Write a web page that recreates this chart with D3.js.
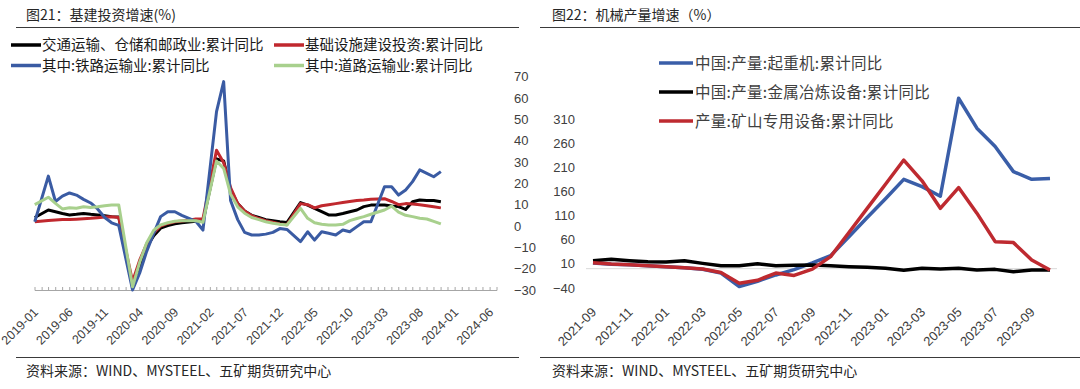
<!DOCTYPE html>
<html><head><meta charset="utf-8">
<script src="https://cdn.jsdelivr.net/npm/d3@7"></script>
<style>body{margin:0;background:#fff}svg{display:block}</style>
</head><body>
<svg id="c" width="1080" height="389"></svg>
<script>
// ---------- Left chart data (cumulative YoY, %) ----------
const leftTitle = "图21：基建投资增速(%)";
const leftMonths = ["2018-12",
 "2019-02","2019-03","2019-04","2019-05","2019-06","2019-07","2019-08","2019-09","2019-10","2019-11","2019-12",
 "2020-02","2020-03","2020-04","2020-05","2020-06","2020-07","2020-08","2020-09","2020-10","2020-11","2020-12",
 "2021-02","2021-03","2021-04","2021-05","2021-06","2021-07","2021-08","2021-09","2021-10","2021-11","2021-12",
 "2022-02","2022-03","2022-04","2022-05","2022-06","2022-07","2022-08","2022-09","2022-10","2022-11","2022-12",
 "2023-02","2023-03","2023-04","2023-05","2023-06","2023-07","2023-08","2023-09","2023-10"];
const transport = [4,
 7.5,6.7,5.9,5.2,5.5,5.9,5.5,5.2,4.8,4.4,4.2,
 -28,-18.5,-10,-4.5,-1,0.2,1,1.5,1.9,2.2,2.2,
 31.5,30.5,17,10.5,7,5,4,3,2.5,2,1.6,
 11,9.8,8.3,6.7,5.2,5.2,5.9,6.7,7.5,9.1,9.8,
 9.8,9.4,9.1,7.8,11.4,12.2,12,12,11.4];
const infra = [2,
 2.6,2.8,3.0,3.0,3.2,3.4,3.6,3.9,4.2,4.3,4.0,
 -26,-16,-8.5,-3.3,0,1.2,2,2.4,2.7,3.3,3.4,
 35.5,29.7,18,10.5,7,4.8,3.5,2.5,1.8,1.0,0.6,
 10.5,10,8.5,9.5,10,10.5,11,11.5,12,12.2,12.5,
 12.8,11.5,10,10.5,10.3,10,9.5,9,8.5];
const rail = [2,
 23.4,11.5,14,15.5,14.5,12.5,10.8,8,4,1.5,0.3,
 -30,-22,-12,-3.5,4.4,6.7,6.7,5,3.6,2.2,-1.9,
 53.6,67.7,12,3,-3,-4.2,-4.2,-3.8,-3,-1.2,-1.6,
 -7.3,-2.7,-6.6,-2.7,-3.4,-4.2,-1.9,-2.7,-0.3,2,2,
 18.4,18.4,14.5,16.9,20.8,26.3,24.7,23.1,25.5];
const road = [10,
 13.5,10.6,8,8.6,8.3,9,8.7,9,9.5,9.8,9.8,
 -28.5,-17,-8,-2,0.5,1.5,2.2,2.5,2.5,2.5,1.8,
 30.5,27,15,9,6,4,3,2,1.3,0.8,0.5,
 8.3,3.6,1.5,0.8,0.5,0.5,0.8,2.5,3.5,4.4,5.5,
 7.5,9.3,6.5,5,4.4,3.6,3.3,2.2,1];
const leftSeriesNames = ["交通运输、仓储和邮政业:累计同比","基础设施建设投资:累计同比","其中:铁路运输业:累计同比","其中:道路运输业:累计同比"];
const leftColors = ["#000000","#c0282e","#3a5ba3","#a8d08d"];
const leftXLabels = ["2019-01","2019-06","2019-11","2020-04","2020-09","2021-02","2021-07","2021-12","2022-05","2022-10","2023-03","2023-08","2024-01","2024-06"];
const leftYTicks = [-30,-20,-10,0,10,20,30,40,50,60,70];

// ---------- Right chart data ----------
const rightTitle = "图22：机械产量增速（%）";
const rightMonths = ["2021-09","2021-10","2021-11","2021-12","2022-01","2022-02","2022-03","2022-04","2022-05","2022-06","2022-07","2022-08","2022-09","2022-10","2022-11","2022-12","2023-01","2023-02","2023-03","2023-04","2023-05","2023-06","2023-07","2023-08","2023-09","2023-10"];
const crane  = [12,9,8,6,4,2,-1,-9,-37,-26,-13,-2,12,27,66,106,145,185,170,150,353,291,253,201,185,187];
const metal  = [16.6,19.3,16.6,14.5,13.8,16.6,11,6.2,6.2,10,6.2,6.9,7.6,6.2,4.1,2.8,0.7,-3.4,0.7,-0.7,0.7,-2.8,-1.4,-6.2,-2.8,-2.8];
const mining = [12.4,9.7,8.3,6.2,4.1,2.1,-0.7,-8,-30,-24,-9,-14,-1,25,75,125,175,225,182,125,168,115,56,54,18,-2.8];
const rightSeriesNames = ["中国:产量:起重机:累计同比","中国:产量:金属冶炼设备:累计同比","产量:矿山专用设备:累计同比"];
const rightColors = ["#3a5ea8","#000000","#be2a30"];
const rightXLabels = ["2021-09","2021-11","2022-01","2022-03","2022-05","2022-07","2022-09","2022-11","2023-01","2023-03","2023-05","2023-07","2023-09"];
const rightYTicks = [-40,10,60,110,160,210,260,310];

const sourceText = "资料来源：WIND、MYSTEEL、五矿期货研究中心";

// ---------- drawing ----------
const CJK = '"Noto Sans CJK SC","Noto Sans",sans-serif';
const NUM = '"Liberation Sans",Arial,sans-serif';
const svg = d3.select("#c");
const fmt = v => String(v).replace("-", "\u2212");
const monthEnd = s => { const [y,m] = s.split("-").map(Number); return new Date(y, m, 0); };
const monthStart = s => { const [y,m] = s.split("-").map(Number); return new Date(y, m-1, 1); };

function frame(x0, x1, tx, title) {
  svg.append("line").attr("x1",x0).attr("x2",x1).attr("y1",27.5).attr("y2",27.5).attr("stroke","#3a3a3a").attr("stroke-width",1);
  svg.append("text").attr("x",tx).attr("y",20).attr("font-family",CJK).attr("font-size",14).attr("fill","#262626").text(title);
  svg.append("line").attr("x1",x0).attr("x2",x1).attr("y1",357.5).attr("y2",357.5).attr("stroke","#3a3a3a").attr("stroke-width",1);
  svg.append("text").attr("x",tx).attr("y",376).attr("font-family",CJK).attr("font-size",14).attr("fill","#262626").text(sourceText);
}
frame(16, 519, 26, leftTitle);
frame(540, 1080, 552, rightTitle);

// ----- Left chart -----
const xL = d3.scaleTime().domain([new Date(2019,0,1), new Date(2024,6,1)]).range([35,497]);
const yL = d3.scaleLinear().domain([-30,70]).range([290,76.7]);
const gL = svg.append("g");
gL.append("line").attr("x1",xL.range()[0]).attr("x2",xL.range()[1]).attr("y1",290.5).attr("y2",290.5).attr("stroke","#a6a6a6");
gL.selectAll(".mt").data(d3.timeMonth.range(new Date(2019,0,1), new Date(2024,6,2))).join("line")
  .attr("x1",d=>xL(d)).attr("x2",d=>xL(d)).attr("y1",290.5).attr("y2",287).attr("stroke","#a6a6a6");
gL.selectAll(".xl").data(leftXLabels).join("text")
  .attr("transform",d=>`translate(${xL(monthStart(d))+4},313) rotate(-45)`)
  .attr("text-anchor","end").attr("font-family",NUM).attr("font-size",12.5).attr("fill","#404040").text(d=>d);
gL.selectAll(".yl").data(leftYTicks).join("text")
  .attr("x",514).attr("y",d=>yL(d)).attr("dy","0.35em").attr("font-family",NUM).attr("font-size",13).attr("fill","#404040").text(fmt);
const leftData = [transport, infra, rail, road];
const lineL = d3.line().x(d=>xL(d[0])).y(d=>yL(d[1]));
leftData.forEach((vals,i) => {
  const pts = leftMonths.map((m,j)=>[monthEnd(m), vals[j]]);
  gL.append("path").attr("d",lineL(pts)).attr("fill","none").attr("stroke",leftColors[i])
    .attr("stroke-width",3).attr("stroke-linejoin","round");
});
// left legend
const legPosL = [[11,45],[274,45],[11,65.5],[274,65.5]];
leftSeriesNames.forEach((n,i)=>{
  const [lx,ly] = legPosL[i];
  svg.append("line").attr("x1",lx).attr("x2",lx+30).attr("y1",ly).attr("y2",ly).attr("stroke",leftColors[i]).attr("stroke-width",3.5);
  svg.append("text").attr("x",lx+31).attr("y",ly).attr("dy","0.36em").attr("font-family",CJK).attr("font-size",14.5).attr("fill","#1a1a1a").text(n);
});

// ----- Right chart -----
const xR = d3.scalePoint().domain(rightMonths).range([593,1050]);
const yR = d3.scaleLinear().domain([-40,310]).range([288,119]);
const gR = svg.append("g");
gR.append("line").attr("x1",586).attr("x2",1057).attr("y1",yR(0)).attr("y2",yR(0)).attr("stroke","#d9d9d9");
gR.selectAll(".yl").data(rightYTicks).join("text")
  .attr("x",575).attr("y",d=>yR(d)).attr("dy","0.35em").attr("text-anchor","end").attr("font-family",NUM).attr("font-size",13).attr("fill","#404040").text(fmt);
gR.selectAll(".xl").data(rightXLabels).join("text")
  .attr("transform",d=>`translate(${xR(d)+4},313) rotate(-45)`)
  .attr("text-anchor","end").attr("font-family",NUM).attr("font-size",13).attr("fill","#404040").text(d=>d);
const rightData = [crane, metal, mining];
const lineR = d3.line().x(d=>xR(d[0])).y(d=>yR(d[1]));
rightData.forEach((vals,i)=>{
  const pts = rightMonths.map((m,j)=>[m, vals[j]]);
  gR.append("path").attr("d",lineR(pts)).attr("fill","none").attr("stroke",rightColors[i])
    .attr("stroke-width",3.5).attr("stroke-linejoin","round");
});
const legYR = [63,92,121];
rightSeriesNames.forEach((n,i)=>{
  svg.append("line").attr("x1",659).attr("x2",693).attr("y1",legYR[i]).attr("y2",legYR[i]).attr("stroke",rightColors[i]).attr("stroke-width",3.5);
  svg.append("text").attr("x",695).attr("y",legYR[i]).attr("dy","0.36em").attr("font-family",CJK).attr("font-size",15.5).attr("letter-spacing",0.3).attr("fill","#404040").text(n);
});
</script>
</body></html>
